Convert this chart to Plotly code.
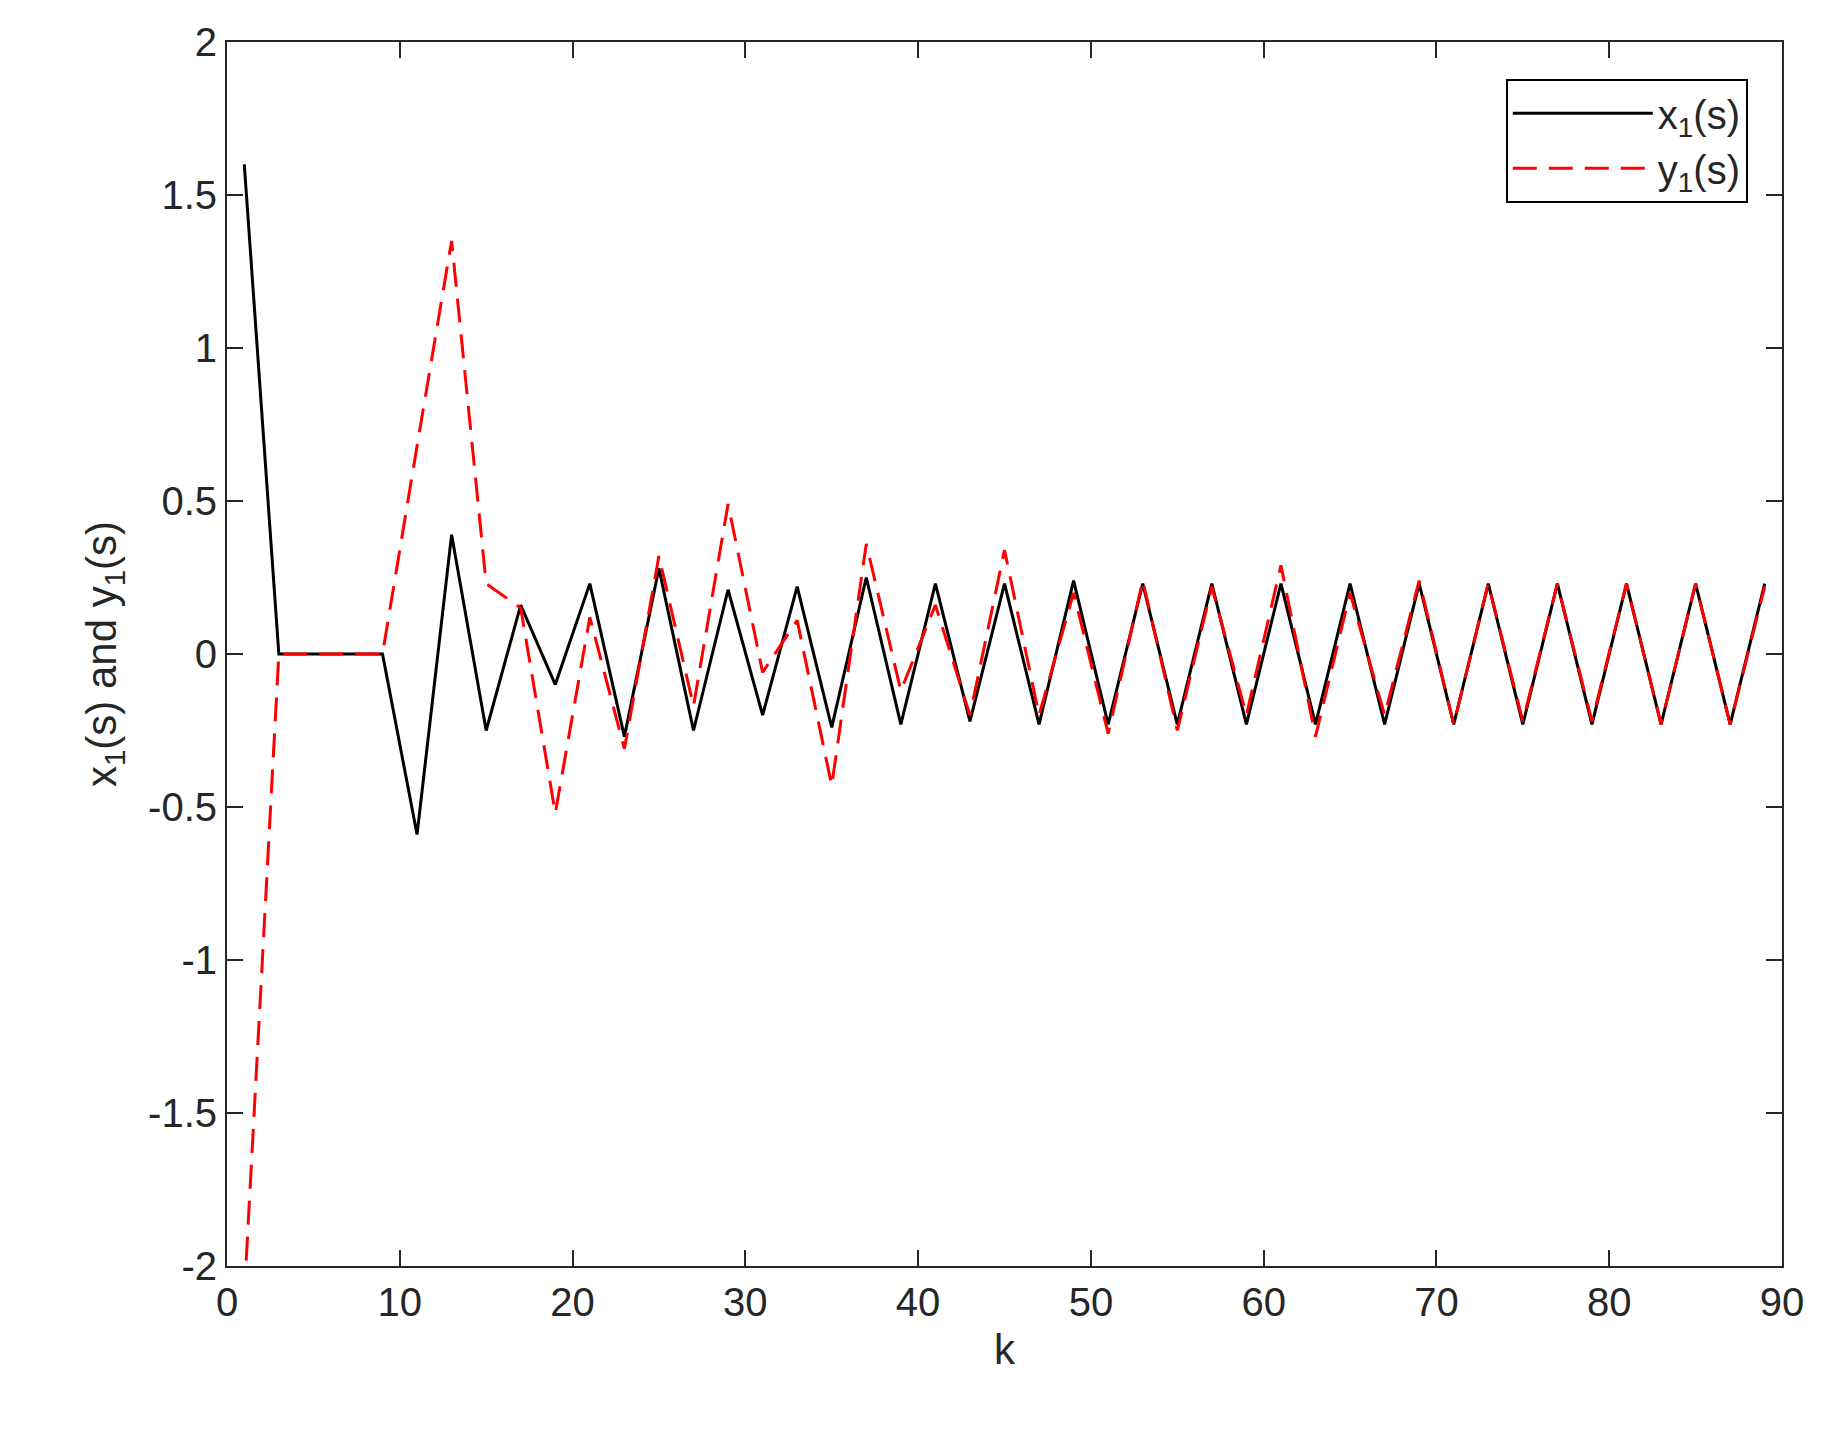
import plotly.graph_objects as go

k = list(range(1, 90, 2))
x1 = [1.6, 0, 0, 0, 0, -0.59, 0.39, -0.25, 0.16, -0.1, 0.23, -0.27, 0.28, -0.25, 0.21,
      -0.2, 0.22, -0.24, 0.25, -0.23, 0.23, -0.22, 0.23, -0.23, 0.24, -0.23, 0.23, -0.23,
      0.23, -0.23, 0.23, -0.23, 0.23, -0.23, 0.23, -0.23, 0.23, -0.23, 0.23, -0.23, 0.23,
      -0.23, 0.23, -0.23, 0.23]
y1 = [-2.1, 0, 0, 0, 0, 0.68, 1.35, 0.23, 0.15, -0.52, 0.12, -0.31, 0.32, -0.17, 0.49,
      -0.06, 0.11, -0.43, 0.36, -0.12, 0.16, -0.2, 0.34, -0.2, 0.2, -0.26, 0.24, -0.25,
      0.22, -0.2, 0.29, -0.27, 0.2, -0.2, 0.24, -0.23, 0.23, -0.22, 0.23, -0.22, 0.23,
      -0.23, 0.23, -0.23, 0.22]
y_ticks = [-2, -1.5, -1, -0.5, 0, 0.5, 1, 1.5, 2]
y_labels = ["-2", "-1.5", "-1", "-0.5", "0", "0.5", "1", "1.5", "2"]

fig = go.Figure()
fig.add_trace(go.Scatter(x=k, y=x1, mode="lines", name="x<sub>1</sub>(s)",
                         line=dict(color="black", width=3)))
fig.add_trace(go.Scatter(x=k, y=y1, mode="lines", name="y<sub>1</sub>(s)",
                         line=dict(color="red", width=3, dash="24px,12px")))

axis = dict(showgrid=False, zeroline=False, showline=True, mirror="ticks", linecolor="#262626",
            linewidth=2, ticks="inside", ticklen=16, tickwidth=2, tickcolor="#262626",
            tickfont=dict(size=40, color="#262626"))
fig.update_xaxes(range=[0, 90], dtick=10, title=dict(text="k", font=dict(size=42, color="#262626"), standoff=12), **axis)
fig.update_yaxes(range=[-2, 2], tickvals=y_ticks, ticktext=y_labels,
                 title=dict(text="x<sub>1</sub>(s) and y<sub>1</sub>(s)", font=dict(size=42, color="#262626"), standoff=18), **axis)

fig.update_layout(
    width=1831, height=1437, plot_bgcolor="white", paper_bgcolor="white",
    font=dict(family="Liberation Sans, Arial, sans-serif"),
    margin=dict(l=219, r=57, t=31, b=179),
    showlegend=True,
    legend=dict(x=0.978, y=0.97, xanchor="right", yanchor="top", bordercolor="black",
                borderwidth=2, bgcolor="white", font=dict(size=40, color="#262626"),
                itemwidth=140, tracegroupgap=10),
)

fig.write_html("out.html")
